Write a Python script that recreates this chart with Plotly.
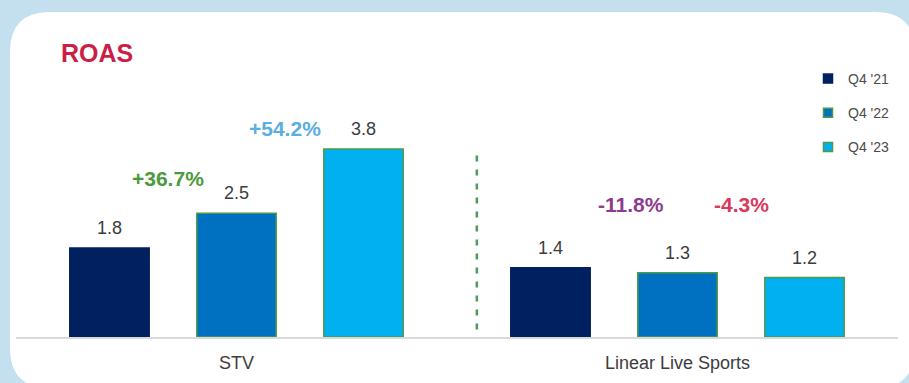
import plotly.graph_objects as go

# ---- data ----
categories = ["STV", "Linear Live Sports"]
series_names = ["Q4 '21", "Q4 '22", "Q4 '23"]
q4_21 = [1.8, 1.4]
q4_22 = [2.5, 1.3]
q4_23 = [3.8, 1.2]
change_labels = ["+36.7%", "+54.2%", "-11.8%", "-4.3%"]

series_values = [q4_21, q4_22, q4_23]

# ---- styles ----
fills = ["#002060", "#0070c0", "#00b0f0"]
edges = ["#002060", "#4a9a4a", "#4a9a4a"]
change_colors = ["#4b9a3c", "#5aaee0", "#8e3b8f", "#d9395d"]
# positions of change labels (x in axis units, y in value units)
change_pos = [(-0.155, 3.21), (0.110, 4.22), (0.895, 2.67), (1.144, 2.67)]
FONT = "Liberation Sans, Arial, sans-serif"

offsets = [-0.288, 0.0, 0.288]
bar_w = 0.18

fig = go.Figure()
annotations = []
for k, (name, vals) in enumerate(zip(series_names, series_values)):
    xs = [i + offsets[k] for i in range(len(categories))]
    fig.add_trace(go.Bar(
        x=xs, y=vals, width=bar_w, name=name, showlegend=False,
        marker=dict(color=fills[k], line=dict(color=edges[k], width=1.5)),
        hoverinfo="y",
    ))
    # legend proxy
    fig.add_trace(go.Scatter(
        x=[None], y=[None], mode="markers", name=name, legendgroup=name,
        marker=dict(symbol="square", size=9, color=fills[k],
                    line=dict(color=edges[k], width=1.5)),
    ))
    for x, v in zip(xs, vals):
        annotations.append(dict(
            x=x, y=v, xref="x", yref="y", text=f"{v:.1f}", showarrow=False,
            yanchor="bottom", yshift=8,
            font=dict(family=FONT, size=18, color="#3c3c3c"),
        ))

for txt, col, (px_, py_) in zip(change_labels, change_colors, change_pos):
    annotations.append(dict(
        x=px_, y=py_, xref="x", yref="y", text=f"<b>{txt}</b>", showarrow=False,
        font=dict(family=FONT, size=21, color=col),
    ))

# card geometry in pixels -> paper coords
L, R, T, B = 16, 898, 40, 337
W, H = R - L, B - T
def px(x):
    return (x - L) / W
def py(y):
    return (B - y) / H

cl, ct, cr, cb, rad = 10, 12, 915, 388, 40
card = (
    f"M {px(cl)},{py(ct + rad)} "
    f"Q {px(cl)},{py(ct)} {px(cl + rad)},{py(ct)} "
    f"L {px(cr - rad)},{py(ct)} "
    f"Q {px(cr)},{py(ct)} {px(cr)},{py(ct + rad)} "
    f"L {px(cr)},{py(cb - rad)} "
    f"Q {px(cr)},{py(cb)} {px(cr - rad)},{py(cb)} "
    f"L {px(cl + rad)},{py(cb)} "
    f"Q {px(cl)},{py(cb)} {px(cl)},{py(cb - rad)} Z"
)

shapes = [
    dict(type="path", path=card, xref="paper", yref="paper",
         fillcolor="white", line=dict(width=0), layer="below"),
    dict(type="line", x0=0.545, x1=0.545, y0=0.15, y1=3.7, xref="x", yref="y",
         line=dict(color="#4a9a5a", width=2.5, dash="6px,8px")),
]

fig.update_layout(
    width=909, height=383,
    margin=dict(l=L, r=909 - R, t=T, b=383 - B, pad=0, autoexpand=False),
    paper_bgcolor="#c4dfee",
    plot_bgcolor="rgba(0,0,0,0)",
    title=dict(text="<b>ROAS</b>", x=61 / 909, xref="container", xanchor="left",
               y=1 - 53 / 383, yref="container", yanchor="middle",
               font=dict(family=FONT, size=25, color="#cc1f47")),
    xaxis=dict(range=[-0.5, 1.5], tickvals=[0, 1], ticktext=categories,
               automargin=False,
               showgrid=False, zeroline=False, showline=True,
               linecolor="#d9d9d9", linewidth=1.5,
               ticks="outside", ticklen=9, tickcolor="rgba(0,0,0,0)",
               tickfont=dict(family=FONT, size=18, color="#3c3c3c")),
    yaxis=dict(range=[0, 6.0], visible=False, showgrid=False, zeroline=False,
               automargin=False),
    legend=dict(x=px(808), y=py(63), xanchor="left", yanchor="top",
                tracegroupgap=13, bgcolor="rgba(0,0,0,0)",
                font=dict(family=FONT, size=14, color="#4a4a4a"),
                itemclick=False),
    annotations=annotations,
    shapes=shapes,
    showlegend=True,
)

fig.write_html("out.html")
